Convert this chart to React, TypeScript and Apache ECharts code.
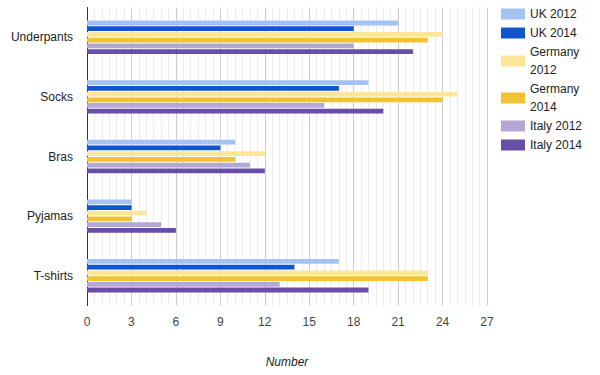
import React, { useEffect, useRef } from "react";
import * as echarts from "echarts";

const categories = ["Underpants", "Socks", "Bras", "Pyjamas", "T-shirts"];
const seriesNames = ["UK 2012", "UK 2014", "Germany 2012", "Germany 2014", "Italy 2012", "Italy 2014"];
const uk2012 = [21, 19, 10, 3, 17];
const uk2014 = [18, 17, 9, 3, 14];
const germany2012 = [24, 25, 12, 4, 23];
const germany2014 = [23, 24, 10, 3, 23];
const italy2012 = [18, 16, 11, 5, 13];
const italy2014 = [22, 20, 12, 6, 19];
const seriesValues = [uk2012, uk2014, germany2012, germany2014, italy2012, italy2014];
const colors = ["#a4c2f4", "#1155cc", "#ffe599", "#f1c232", "#b4a7d6", "#674ea7"];

const FONT = "'Liberation Sans', Arial, Helvetica, sans-serif";

export default function App() {
  const ref = useRef<HTMLDivElement>(null);
  useEffect(() => {
    if (!ref.current) return;
    const chart = echarts.init(ref.current, undefined, { renderer: "svg" });
    chart.setOption({
      animation: false,
      textStyle: { fontFamily: FONT },
      color: colors,
      legend: {
        orient: "vertical",
        left: 501,
        top: 5,
        padding: 0,
        itemWidth: 24,
        itemHeight: 11,
        itemGap: 1,
        icon: "rect",
        data: seriesNames,
        formatter: (n: string) => n.replace("Germany ", "Germany\n"),
        textStyle: { fontSize: 12, color: "#222", fontFamily: FONT, lineHeight: 18 },
      },
      grid: { left: 87, top: 7.5, width: 400, height: 298 },
      xAxis: {
        type: "value",
        min: 0,
        max: 27,
        interval: 3,
        name: "Number",
        nameLocation: "middle",
        nameGap: 50,
        nameTextStyle: { fontStyle: "italic", fontSize: 12, color: "#222", fontFamily: FONT },
        axisLine: { show: false },
        axisTick: { show: false },
        axisLabel: { color: "#444", fontSize: 12, margin: 10, fontFamily: FONT },
        splitLine: { show: true, lineStyle: { color: "#cccccc", width: 1 } },
        minorTick: { show: false, splitNumber: 6 },
        minorSplitLine: { show: true, lineStyle: { color: "#ebebeb", width: 1 } },
      },
      yAxis: {
        type: "category",
        data: categories,
        inverse: true,
        axisLine: { show: true, lineStyle: { color: "#333", width: 1 } },
        axisTick: { show: false },
        axisLabel: { color: "#222", fontSize: 12, margin: 14, fontFamily: FONT },
        splitLine: { show: false },
      },
      series: seriesNames.map((name, i) => ({
        name,
        type: "bar",
        data: seriesValues[i],
        barCategoryGap: "44%",
        barGap: "20%",
        itemStyle: { color: colors[i] },
      })),
    });
    return () => chart.dispose();
  }, []);
  return (
    <div
      ref={ref}
      style={{ position: "absolute", left: 0, top: 0, width: 600, height: 375 }}
    />
  );
}
